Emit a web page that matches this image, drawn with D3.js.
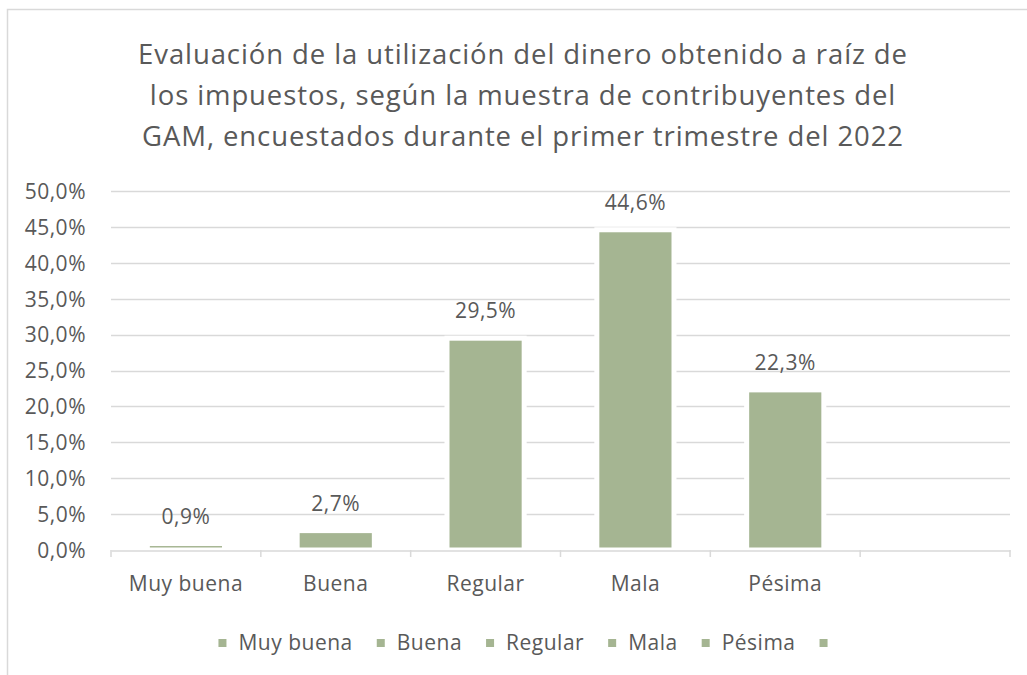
<!DOCTYPE html>
<html><head><meta charset="utf-8">
<script src="https://cdn.jsdelivr.net/npm/d3@7"></script>
<style>html,body{margin:0;padding:0;background:#fff;}svg{display:block;}</style>
</head><body>
<svg id="c" width="1027" height="675"></svg>
<script>
const titleLines = ["Evaluación de la utilización del dinero obtenido a raíz de",
  "los impuestos, según la muestra de contribuyentes del",
  "GAM, encuestados durante el primer trimestre del 2022"];
const categories = ["Muy buena","Buena","Regular","Mala","Pésima",""];
const values = [0.9, 2.7, 29.5, 44.6, 22.3, null];
const yTicks = [0,5,10,15,20,25,30,35,40,45,50];
const legendLabels = ["Muy buena","Buena","Regular","Mala","Pésima",""];

const W=1027,H=675;
const fontFam = "'Open Sans', 'Noto Sans', sans-serif";
const textCol = "#595959", gridCol = "#d9d9d9", barCol = "#a5b592";
const fs = 21, ls = "0.5px";
const svg = d3.select("#c");
// outer border
svg.append("path").attr("d",`M7.5,${H} V9.5 H${W}`).attr("fill","none").attr("stroke","#d9d9d9").attr("stroke-width",1.5);

// title
svg.append("g").selectAll("text").data(titleLines).join("text")
  .attr("x",523).attr("y",(d,i)=>64+i*41)
  .attr("text-anchor","middle").attr("font-family",fontFam).attr("font-size",27.5)
  .attr("letter-spacing","0.9px")
  .attr("fill",textCol).text(d=>d);

const xb = d3.scaleBand().domain(categories.map((c,i)=>i)).range([111,1010]);
const barW = xb.bandwidth()*0.515;
const y = d3.scaleLinear().domain([0,50]).range([550,191]);

// gridlines
svg.append("g").selectAll("line").data(yTicks.filter(t=>t>0)).join("line")
  .attr("x1",111).attr("x2",1010).attr("y1",d=>Math.round(y(d))+0.5).attr("y2",d=>Math.round(y(d))+0.5)
  .attr("stroke",gridCol).attr("stroke-width",1.5);

// y labels
const yAxis = d3.axisLeft(y).tickValues(yTicks).tickSize(0).tickPadding(0)
  .tickFormat(d=>d.toFixed(1).replace(".",",")+"%");
const ya = svg.append("g").attr("transform","translate(86,0)").call(yAxis);
ya.select(".domain").remove();
ya.selectAll("text").attr("font-family",fontFam).attr("font-size",fs).attr("letter-spacing",ls).attr("fill",textCol).attr("dy","0.35em");

const data = categories.map((c,i)=>({i,c,v:values[i]})).filter(d=>d.v!=null);
svg.append("g").selectAll("rect").data(data).join("rect")
  .attr("x",d=>xb(d.i)+xb.bandwidth()/2-barW/2).attr("width",barW)
  .attr("y",d=>y(d.v)).attr("height",d=>y(0)-y(d.v)).attr("fill",barCol)
  .attr("stroke","#fff").attr("stroke-width",5);

// x axis
const xAxis = d3.axisBottom(xb).tickSize(0).tickFormat(i=>categories[i]);
const xa = svg.append("g").attr("transform","translate(0,550.5)").call(xAxis);
xa.select(".domain").attr("stroke",gridCol).attr("stroke-width",1.5);
xa.selectAll("text").attr("font-family",fontFam).attr("font-size",fs).attr("letter-spacing",ls).attr("fill",textCol).attr("dy",0).attr("y",40);
// category tick marks at band boundaries
svg.append("g").selectAll("line").data(d3.range(categories.length+1)).join("line")
  .attr("x1",d=>d<categories.length?xb(d):xb.range()[1]).attr("x2",d=>d<categories.length?xb(d):xb.range()[1])
  .attr("y1",550).attr("y2",557).attr("stroke",gridCol).attr("stroke-width",1.5);

// data labels
svg.append("g").selectAll("text").data(data).join("text")
  .attr("x",d=>xb(d.i)+xb.bandwidth()/2).attr("y",d=>y(d.v)-20)
  .attr("text-anchor","middle").attr("font-family",fontFam).attr("font-size",fs).attr("letter-spacing",ls).attr("fill",textCol)
  .text(d=>d.v.toFixed(1).replace(".",",")+"%");

// legend
const lg = svg.append("g");
const items = lg.selectAll("g").data(legendLabels).join("g");
items.append("rect").attr("width",8).attr("height",8).attr("y",-4).attr("fill",barCol);
items.append("text").attr("x",20).attr("dy","0.35em").attr("font-family",fontFam).attr("font-size",fs).attr("letter-spacing",ls).attr("fill",textCol).text(d=>d);
let xpos=0; const pos=[];
items.each(function(d){ pos.push(xpos); const tw = d? this.querySelector("text").getComputedTextLength():0; xpos += 8 + (d?12+tw+24:0);});
const total = xpos;
const start = 523 - total/2;
items.attr("transform",(d,i)=>`translate(${start+pos[i]},643)`);
</script>
</body></html>
